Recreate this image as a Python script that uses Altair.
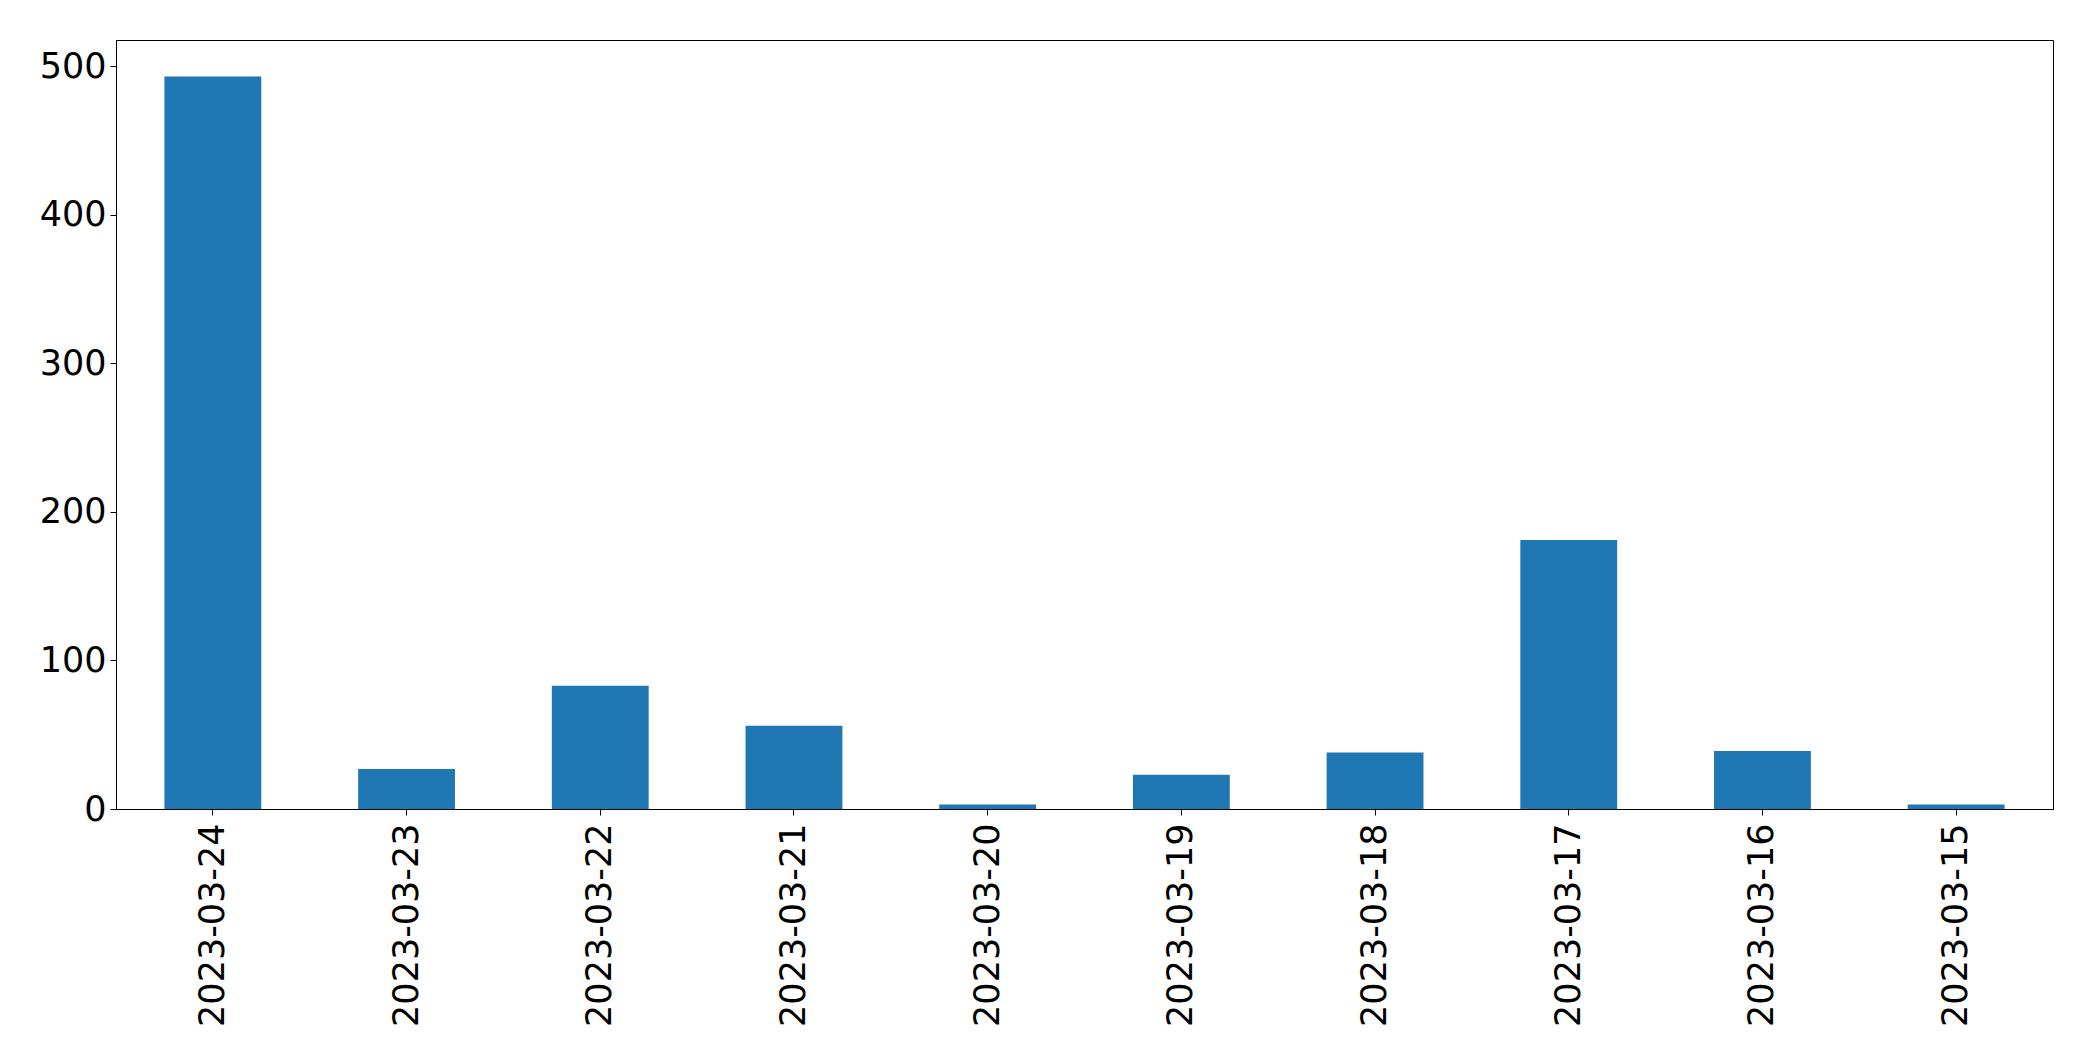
import altair as alt
import pandas as pd

dates = ["2023-03-24", "2023-03-23", "2023-03-22", "2023-03-21", "2023-03-20",
         "2023-03-19", "2023-03-18", "2023-03-17", "2023-03-16", "2023-03-15"]
counts = [493, 27, 83, 56, 3, 23, 38, 181, 39, 3]

df = pd.DataFrame({"date": dates, "count": counts})

FONT = "DejaVu Sans"

chart = alt.Chart(df).mark_bar(color="#1f77b4").encode(
    x=alt.X("date:N", sort=dates, title=None,
            scale=alt.Scale(paddingInner=0.5, paddingOuter=0.25),
            axis=alt.Axis(labelAngle=-90, labelAlign="right", labelBaseline="middle",
                          labelFont=FONT, labelFontSize=35, labelColor="black",
                          labelLimit=0, tickColor="black", tickSize=6, tickWidth=1,
                          domainColor="black", labelPadding=8, grid=False)),
    y=alt.Y("count:Q", title=None,
            scale=alt.Scale(domain=[0, 517.65], nice=False, zero=True),
            axis=alt.Axis(values=[0, 100, 200, 300, 400, 500], labelFont=FONT,
                          labelFontSize=35, labelColor="black", tickColor="black",
                          tickSize=6, tickWidth=1, domainColor="black",
                          labelPadding=4, grid=False)),
).properties(
    width=1937, height=769,
    autosize=alt.AutoSizeParams(type="none"),
    padding={"left": 108, "top": 32, "right": 20, "bottom": 230},
).configure(
    background="white",
    view=alt.ViewConfig(stroke="#000000", strokeWidth=1, strokeOpacity=1),
)

chart.save("out.html", embed_options={"renderer": "svg", "actions": False})
